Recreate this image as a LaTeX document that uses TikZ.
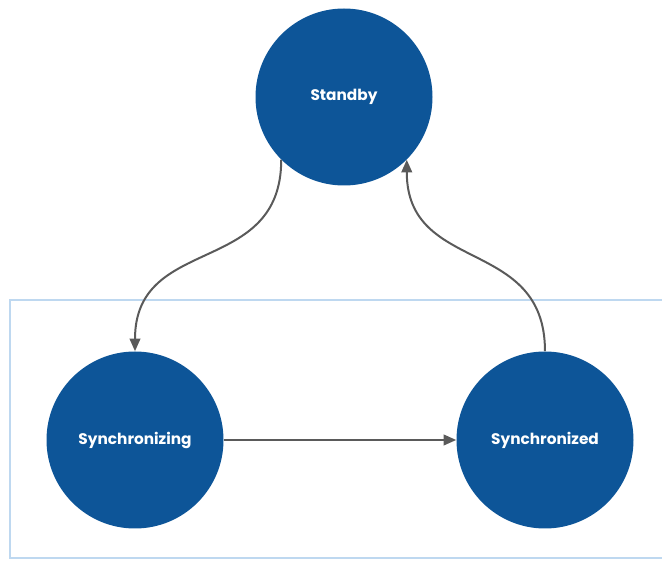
\documentclass[tikz,border=0pt]{standalone}
\usepackage{fontspec}
\setmainfont{Poppins}
\usepackage{tikz}
\usepackage{xcolor}
\usetikzlibrary{arrows.meta}

\definecolor{azulestado}{RGB}{13,85,152}
\definecolor{grisflecha}{RGB}{90,90,90}
\definecolor{azulmarco}{RGB}{190,216,240}

\begin{document}
\begin{tikzpicture}[x=0.75pt, y=0.75pt,
    estado/.style={circle, fill=azulestado, draw=none, minimum size=132.75pt, inner sep=0pt,
        text=white, font=\fontsize{11.5}{13}\selectfont\bfseries},
    flecha/.style={draw=grisflecha, line width=1.5pt, -{Triangle[length=9.5pt, width=8pt]}}]
        \useasboundingbox (0, 0) rectangle (662, 561);

        % Marco de fondo
        \draw[azulmarco, line width=1.3pt] (10, 261) rectangle (680, 3);

        % Estados
        \node[estado] (standby) at (344, 464) {Standby};
        \node[estado] (synchronizing) at (135, 121) {Synchronizing};
        \node[estado] (synchronized) at (545, 121) {Synchronized};

        % Transiciones
        \draw[flecha] (standby.225) to[out=-90, in=90, looseness=1.25] (synchronizing.north);
        \draw[flecha] (synchronizing.east) -- (synchronized.west);
        \draw[flecha] (synchronized.north) to[out=90, in=-90, looseness=1.25] (standby.-45);

    \end{tikzpicture}
\end{document}
